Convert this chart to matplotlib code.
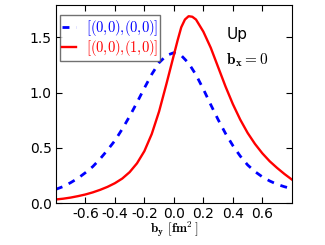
import matplotlib
matplotlib.use("Agg")
import matplotlib.pyplot as plt

plt.rcParams["mathtext.fontset"] = "cm"
plt.rcParams["axes.unicode_minus"] = False

# values
b_y_blue = [-0.8, -0.75, -0.7, -0.65, -0.6, -0.55, -0.5, -0.45, -0.4, -0.35, -0.3,
            -0.25, -0.2, -0.15, -0.1, -0.05, 0.0, 0.05, 0.1, 0.15, 0.2, 0.25, 0.3,
            0.35, 0.4, 0.45, 0.5, 0.55, 0.6, 0.65, 0.7, 0.75, 0.8]
dens_00_00 = [0.125, 0.15, 0.185, 0.225, 0.275, 0.33, 0.40, 0.48, 0.565, 0.67, 0.785,
              0.91, 1.04, 1.165, 1.27, 1.335, 1.36, 1.335, 1.265, 1.16, 1.03, 0.89, 0.755,
              0.63, 0.52, 0.425, 0.345, 0.285, 0.237, 0.20, 0.17, 0.148, 0.13]

b_y_red = [-0.8, -0.75, -0.7, -0.65, -0.6, -0.55, -0.5, -0.45, -0.4, -0.35, -0.3,
           -0.25, -0.2, -0.15, -0.1, -0.05, 0.0, 0.025, 0.05, 0.075, 0.1, 0.125,
           0.15, 0.2, 0.25, 0.3, 0.35, 0.4, 0.45, 0.5, 0.55, 0.6, 0.65, 0.7, 0.75, 0.8]
dens_00_10 = [0.033, 0.04, 0.05, 0.063, 0.078, 0.097, 0.12, 0.147, 0.18, 0.222, 0.28,
              0.36, 0.47, 0.625, 0.83, 1.08, 1.34, 1.47, 1.59, 1.66, 1.69, 1.685,
              1.66, 1.55, 1.405, 1.23, 1.055, 0.895, 0.755, 0.635, 0.535, 0.45, 0.378,
              0.318, 0.263, 0.213]

fig = plt.figure(figsize=(3.25, 2.45), dpi=100)
ax = fig.add_axes([0.172, 0.171, 0.726, 0.808])

ax.plot(b_y_blue, dens_00_00, color="b", ls="--", lw=2, dashes=(2.5, 2.5),
        label=r"$[(0{,}0){,}(0{,}0)]$")
ax.plot(b_y_red, dens_00_10, color="r", ls="-", lw=1.7,
        label=r"$[(0{,}0){,}(1{,}0)]$")

ax.set_xlim(-0.8, 0.8)
ax.set_ylim(0, 1.79)
ax.set_xticks([-0.6, -0.4, -0.2, 0.0, 0.2, 0.4, 0.6])
ax.set_yticks([0.0, 0.5, 1.0, 1.5])
ax.tick_params(direction="in", top=True, right=True, labelsize=10, length=4, pad=3)

ax.set_xlabel(r"$\mathbf{b_y}\ [\mathbf{fm}^2\,]$", fontsize=9.5, labelpad=-1)

ax.text(0.725, 0.83, "Up", transform=ax.transAxes, fontsize=11)
ax.text(0.72, 0.70, r"$\mathbf{b_x} = 0$", transform=ax.transAxes, fontsize=11)

leg = ax.legend(loc="upper left", fontsize=10.5, handlelength=0.9, handletextpad=0.7,
                borderpad=0.15, labelspacing=0.05, fancybox=False, borderaxespad=0.3,
                bbox_to_anchor=(0.0, 0.97))
leg.get_frame().set_edgecolor("0.3")
for txt, c in zip(leg.get_texts(), ["b", "r"]):
    txt.set_color(c)

fig.savefig("out.png", dpi=100)
